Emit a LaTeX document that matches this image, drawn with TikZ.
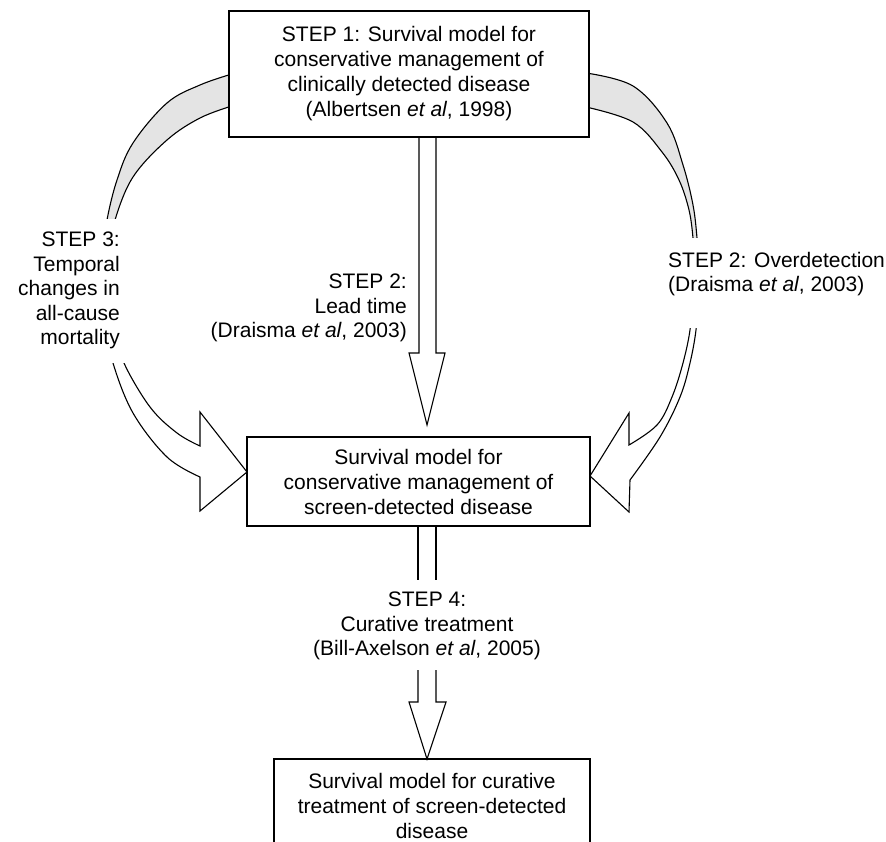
\documentclass[tikz,border=0pt]{standalone}
\usepackage{fontspec}
\setmainfont{Liberation Sans}
\definecolor{bandgray}{HTML}{E4E4E4}
\begin{document}
\begin{tikzpicture}[x=1pt,y=-1pt,
  box/.style={draw, line width=1.4pt, fill=white, align=center, inner sep=0pt,
    font=\fontsize{21}{25}\selectfont},
  lbl/.style={inner sep=0pt, font=\fontsize{21}{24.5}\selectfont},
  blk/.style={draw, line width=1.1pt, line join=miter},
]
\clip (0,0) rectangle (886,842);

% ---- curved block arrow, left (STEP 3) ----
\begin{scope}
  \clip (0,0) rectangle (886,219);
  \filldraw[blk, fill=bandgray]
    plot[smooth, tension=0.6] coordinates {(232,74) (200,85) (167,103) (133,143) (117,180) (107,220) (105,245)}
    -- plot[smooth, tension=0.6] coordinates {(112,245) (115,220) (133,177) (167,140) (200,118) (232,106)} -- cycle;
\end{scope}
\begin{scope}
  \clip (0,363) rectangle (886,842);
  \filldraw[blk, fill=white]
    plot[smooth, tension=0.6] coordinates {(111,340) (113,363) (133,413) (167,457) (200,477)}
    -- (200,511) -- (247,472) -- (200,412) -- (200,446)
    -- plot[smooth, tension=0.6] coordinates {(200,446) (177,433) (150,407) (124,363) (121,340)} -- cycle;
\end{scope}

% ---- curved block arrow, right (STEP 2: Overdetection) ----
\begin{scope}
  \clip (0,0) rectangle (886,238);
  \filldraw[blk, fill=bandgray]
    plot[smooth, tension=0.6] coordinates {(586,73) (633,86) (667,123) (683,165) (693,205) (697,238) (698,260)}
    -- plot[smooth, tension=0.6] coordinates {(694,260) (693,238) (689,210) (679,180) (662,152) (633,122) (586,107)} -- cycle;
\end{scope}
\begin{scope}
  \clip (0,328) rectangle (886,842);
  \filldraw[blk, fill=white]
    plot[smooth, tension=0.6] coordinates {(697,305) (696,330) (690,363) (680,397) (660,437) (630,480)}
    -- (629,512) -- (590,476) -- (629,413) -- (629,445)
    -- plot[smooth, tension=0.6] coordinates {(629,445) (657,425) (672,397) (683,363) (690,330) (691,305)} -- cycle;
\end{scope}

% ---- boxes ----
\node[box, minimum width=360pt, minimum height=126pt] (s1) at (409,74)
  {STEP 1: Survival model for\\conservative management of\\clinically detected disease\\(Albertsen \textit{et al}, 1998)};
\node[box, minimum width=343pt, minimum height=89pt] (mid) at (418.5,481.5)
  {Survival model for\\conservative management of\\screen-detected disease};
\node[box, minimum width=316pt, minimum height=93pt] (bot) at (432,805.5)
  {Survival model for curative\\treatment of screen-detected\\disease};

% ---- straight block arrows ----
\draw[blk] (419,137) -- (419,353) -- (409,353) -- (427,425) -- (445,353) -- (436,353) -- (436,137);
\draw[blk] (418,526) -- (418,580) (436,526) -- (436,580);
\draw[blk] (418,670) -- (418,702) -- (409,702) -- (427,759) -- (446,702) -- (436,702) -- (436,670);

% ---- labels ----
\node[lbl, align=right, anchor=east] (lead) at (407,308)
  {STEP 2:\\Lead time\\(Draisma \textit{et al}, 2003)};
\node[lbl, align=right, anchor=east] (temp) at (120,290.5)
  {STEP 3:\\Temporal\\changes in\\all-cause\\mortality};
\node[lbl, align=left, anchor=west] (over) at (668,274)
  {STEP 2: Overdetection\\(Draisma \textit{et al}, 2003)};
\node[lbl, align=center] (cure) at (427,626)
  {STEP 4:\\Curative treatment\\(Bill-Axelson \textit{et al}, 2005)};
\end{tikzpicture}
\end{document}
